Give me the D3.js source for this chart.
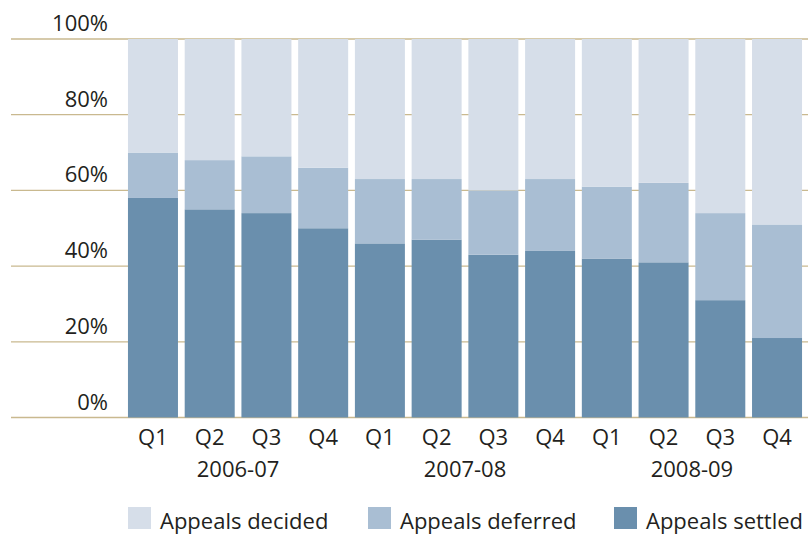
<!DOCTYPE html>
<html lang="en">
<head>
<meta charset="UTF-8">
<title>Appeals</title>
<script src="https://d3js.org/d3.v7.min.js"></script>
<style>
  body { margin: 0; background: #fff; }
  text { font-family: "Open Sans", sans-serif; fill: #231f20; }
  .grid line { stroke: #c9b98f; stroke-width: 1.3; }
</style>
</head>
<body>
<script>
// quarters and financial years
var quarters = ["Q1", "Q2", "Q3", "Q4", "Q1", "Q2", "Q3", "Q4", "Q1", "Q2", "Q3", "Q4"];
var years = ["2006-07", "2007-08", "2008-09"];

// percentage shares per quarter
var settled  = [58, 55, 54, 50, 46, 47, 43, 44, 42, 41, 31, 21];
var deferred = [12, 13, 15, 16, 17, 16, 17, 19, 19, 21, 23, 30];
var decided  = [30, 32, 31, 34, 37, 37, 40, 37, 39, 38, 46, 49];

var yTicks = [0, 20, 40, 60, 80, 100];
var seriesNames = ["Appeals decided", "Appeals deferred", "Appeals settled"];

var colors = {
  settled: "#6a8fad",
  deferred: "#a9bed3",
  decided: "#d6dee9"
};

var width = 809, height = 539;

var svg = d3.select("body").append("svg")
    .attr("width", width)
    .attr("height", height);

var data = quarters.map(function(q, i) {
  return { i: i, settled: settled[i], deferred: deferred[i], decided: decided[i] };
});

var x = d3.scaleBand()
    .domain(d3.range(quarters.length))
    .range([124.6, 805.4])
    .paddingInner(0.1186)
    .paddingOuter(0.0593);

var y = d3.scaleLinear()
    .domain([0, 100])
    .range([417.5, 39]);

// gridlines
svg.append("g")
    .attr("class", "grid")
  .selectAll("line")
  .data(yTicks)
  .enter().append("line")
    .attr("x1", 11)
    .attr("x2", 808)
    .attr("y1", function(d) { return y(d); })
    .attr("y2", function(d) { return y(d); });

// y labels
svg.append("g")
  .selectAll("text")
  .data(yTicks)
  .enter().append("text")
    .attr("x", 108)
    .attr("y", function(d) { return y(d) - 8; })
    .attr("text-anchor", "end")
    .style("font-size", "22px")
    .text(function(d) { return d + "%"; });

// stacked bars
var stack = d3.stack().keys(["settled", "deferred", "decided"]);
var layers = stack(data);

svg.append("g")
  .selectAll("g")
  .data(layers)
  .enter().append("g")
    .attr("fill", function(d) { return colors[d.key]; })
  .selectAll("rect")
  .data(function(d) { return d; })
  .enter().append("rect")
    .attr("x", function(d) { return x(d.data.i); })
    .attr("width", x.bandwidth())
    .attr("y", function(d) { return y(d[1]); })
    .attr("height", function(d) { return y(d[0]) - y(d[1]); });

// quarter labels
svg.append("g")
  .selectAll("text")
  .data(quarters)
  .enter().append("text")
    .attr("x", function(d, i) { return x(i) + x.bandwidth() / 2; })
    .attr("y", 445)
    .attr("text-anchor", "middle")
    .style("font-size", "22px")
    .text(function(d) { return d; });

// year labels, centred between Q2 and Q3
svg.append("g")
  .selectAll("text")
  .data(years)
  .enter().append("text")
    .attr("x", function(d, k) {
      return (x(k * 4 + 1) + x(k * 4 + 2) + x.bandwidth()) / 2;
    })
    .attr("y", 477)
    .attr("text-anchor", "middle")
    .style("font-size", "22px")
    .text(function(d) { return d; });

// legend
var legendX = [128, 368, 614];
var legendColors = [colors.decided, colors.deferred, colors.settled];
var legend = svg.append("g")
  .selectAll("g")
  .data(seriesNames)
  .enter().append("g")
    .attr("transform", function(d, i) { return "translate(" + legendX[i] + ",507)"; });

legend.append("rect")
    .attr("width", 23)
    .attr("height", 22)
    .attr("fill", function(d, i) { return legendColors[i]; });

legend.append("text")
    .attr("x", 32)
    .attr("y", 22)
    .style("font-size", "22px")
    .text(function(d) { return d; });
</script>
</body>
</html>
